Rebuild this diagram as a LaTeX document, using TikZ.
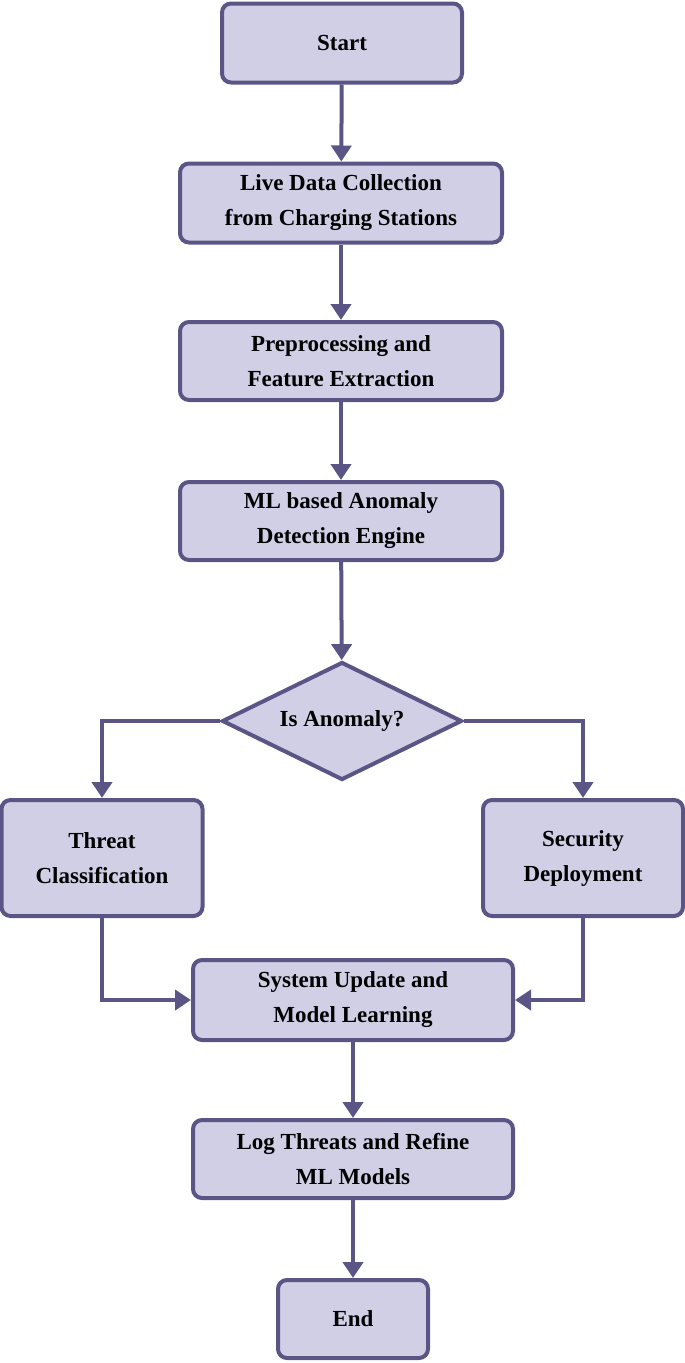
\documentclass[tikz,border=0pt]{standalone}
\usepackage{fontspec}
\setmainfont{Liberation Serif}
\usetikzlibrary{shapes.geometric,arrows.meta}
\definecolor{fillc}{HTML}{D0CFE6}
\definecolor{linec}{HTML}{5A5585}
\begin{document}
\begin{tikzpicture}[x=1pt,y=-1pt,
  box/.style={draw=linec,fill=fillc,line width=4pt,rounded corners=9pt,align=center,font=\fontsize{23}{35}\selectfont\bfseries,inner sep=0pt},
  dia/.style={draw=linec,fill=fillc,line width=4pt,diamond,aspect=2.03,inner sep=0pt,font=\fontsize{23}{28}\selectfont\bfseries},
  arr/.style={draw=linec,line width=4pt,-{Triangle[length=16pt,width=20pt]}}]
\useasboundingbox (0,0) rectangle (685,1363);
\node[box,minimum width=240pt,minimum height=79pt] (start) at (342,43) {Start};
\node[box,minimum width=322pt,minimum height=79pt] (live) at (341,203) {Live Data Collection\\from Charging Stations};
\node[box,minimum width=322pt,minimum height=78pt] (pre) at (341,361) {Preprocessing and\\Feature Extraction};
\node[box,minimum width=322pt,minimum height=78pt] (ml) at (341,521) {ML based Anomaly\\Detection Engine};
\node[dia,minimum width=240pt,minimum height=118pt] (dec) at (342,721) {Is Anomaly?};
\node[box,minimum width=201pt,minimum height=116pt] (thr) at (102,858) {Threat\\Classification};
\node[box,minimum width=200pt,minimum height=116pt] (sec) at (583,858) {Security\\Deployment};
\node[box,minimum width=320pt,minimum height=80pt] (sys) at (353,1000) {System Update and\\Model Learning};
\node[box,minimum width=320pt,minimum height=78pt] (log) at (353,1159) {Log Threats and Refine\\ML Models};
\node[box,minimum width=150pt,minimum height=78pt] (end) at (353,1319) {End};
\draw[arr] (start) -- (live);
\draw[arr] (live) -- (pre);
\draw[arr] (pre) -- (ml);
\draw[arr] (ml) -- (dec);
\draw[arr] (dec.west) -| (thr.north);
\draw[arr] (dec.east) -| (sec.north);
\draw[arr] (thr.south) |- (sys.west);
\draw[arr] (sec.south) |- (sys.east);
\draw[arr] (sys) -- (log);
\draw[arr] (log) -- (end);
\end{tikzpicture}
\end{document}
